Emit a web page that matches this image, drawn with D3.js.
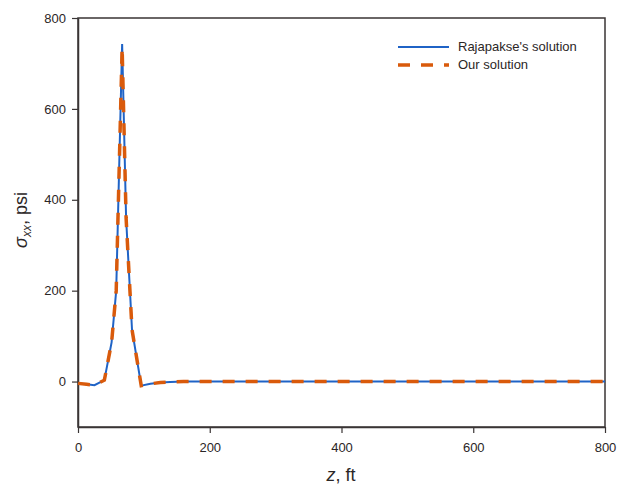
<!DOCTYPE html>
<html>
  <head>
    <meta charset="utf-8">
    <script src="https://d3js.org/d3.v7.min.js" charset="utf-8"></script>
    <style>
      body { margin: 0; background: #fff; }
      text { font-family: "Liberation Sans", Arial, sans-serif; }
    </style>
  </head>
  <body>
    <script type="text/javascript">

// depth, ft
var zRaj = [0, 13, 25, 40, 51, 58, 67, 73, 82, 96, 110, 125, 140, 160, 200, 300, 400, 500, 600, 700, 800];
var sRaj = [-4, -6, -8, 3, 86, 200, 743, 360, 114, -9, -5, -2, -1, 0, 0, 0, 0, 0, 0, 0, 0];

var zOur = [0, 13, 25, 40, 51, 58, 67, 73, 82, 96, 110, 125, 140, 160, 200, 300, 400, 500, 600, 700, 800];
var sOur = [-4, -6, -8, 3, 86, 200, 735, 360, 114, -9, -5, -2, -1, 0, 0, 0, 0, 0, 0, 0, 0];

var xTicks = [0, 200, 400, 600, 800];
var yTicks = [0, 200, 400, 600, 800];
var legendNames = ["Rajapakse's solution", "Our solution"];

var w = 617;
var h = 488;
var pL = 78, pR = 605, pT = 18, pB = 427;

var x = d3.scaleLinear().domain([0, 800]).range([pL, pR]);
var y = d3.scaleLinear().domain([-100, 800]).range([pB, pT]);

var svg = 
  d3.select("body")
    .append("svg")
    .attr("width", w)
    .attr("height", h);

// frame
svg.append("rect")
  .attr("x", pL).attr("y", pT)
  .attr("width", pR - pL).attr("height", pB - pT)
  .style("fill", "none")
  .style("stroke", "#3a3535")
  .style("stroke-width", 1.5);

var xAxis = svg.append("g")
  .attr("transform", "translate(0," + pB + ")")
  .call(d3.axisBottom(x).tickValues(xTicks).tickSizeInner(6).tickSizeOuter(0).tickPadding(10));

var yAxis = svg.append("g")
  .attr("transform", "translate(" + pL + ",0)")
  .call(d3.axisLeft(y).tickValues(yTicks).tickSizeInner(6).tickSizeOuter(0).tickPadding(6));

[xAxis, yAxis].forEach(function(a) {
  a.select(".domain").style("stroke", "#3a3535").style("stroke-width", 1.5);
  a.selectAll(".tick line").style("stroke", "#3a3535").style("stroke-width", 1.2);
  a.selectAll(".tick text")
    .style("font-family", "Liberation Sans, Arial, sans-serif")
    .style("font-size", "13px")
    .style("fill", "#2b2626");
});

var line = d3.line()
  .x(function(d) { return x(d[0]); })
  .y(function(d) { return y(d[1]); });

svg.append("path")
  .datum(d3.zip(zRaj, sRaj))
  .attr("d", line)
  .style("fill", "none")
  .style("stroke", "#1f63c6")
  .style("stroke-width", 2);

svg.append("path")
  .datum(d3.zip(zOur, sOur))
  .attr("d", line)
  .style("fill", "none")
  .style("stroke", "#d95a0b")
  .style("stroke-width", 3.5)
  .style("stroke-dasharray", "12,11");

// legend
var leg = svg.append("g");
leg.append("line")
  .attr("x1", 398).attr("x2", 449).attr("y1", 47).attr("y2", 47)
  .style("stroke", "#1f63c6").style("stroke-width", 2);
leg.append("line")
  .attr("x1", 398).attr("x2", 449).attr("y1", 65).attr("y2", 65)
  .style("stroke", "#d95a0b").style("stroke-width", 3.5)
  .style("stroke-dasharray", "12,11");
leg.selectAll("text")
  .data(legendNames)
  .enter()
  .append("text")
  .attr("x", 458)
  .attr("y", function(d, i) { return 51 + i * 18; })
  .style("font-size", "13px")
  .style("fill", "#2b2626")
  .text(function(d) { return d; });

// axis titles
var xt = svg.append("text")
  .attr("x", 341).attr("y", 481)
  .attr("text-anchor", "middle")
  .style("font-size", "18px")
  .style("fill", "#2b2626");
xt.append("tspan").style("font-style", "italic").text("z");
xt.append("tspan").text(", ft");

var yt = svg.append("text")
  .attr("transform", "translate(27,220) rotate(-90)")
  .attr("text-anchor", "middle")
  .style("font-size", "18px")
  .style("fill", "#2b2626");
yt.append("tspan").style("font-style", "italic").text("σ");
yt.append("tspan").style("font-style", "italic").style("font-size", "12px").attr("dy", 4).text("xx");
yt.append("tspan").attr("dy", -4).text(", psi");

    </script>
  </body>
</html>
